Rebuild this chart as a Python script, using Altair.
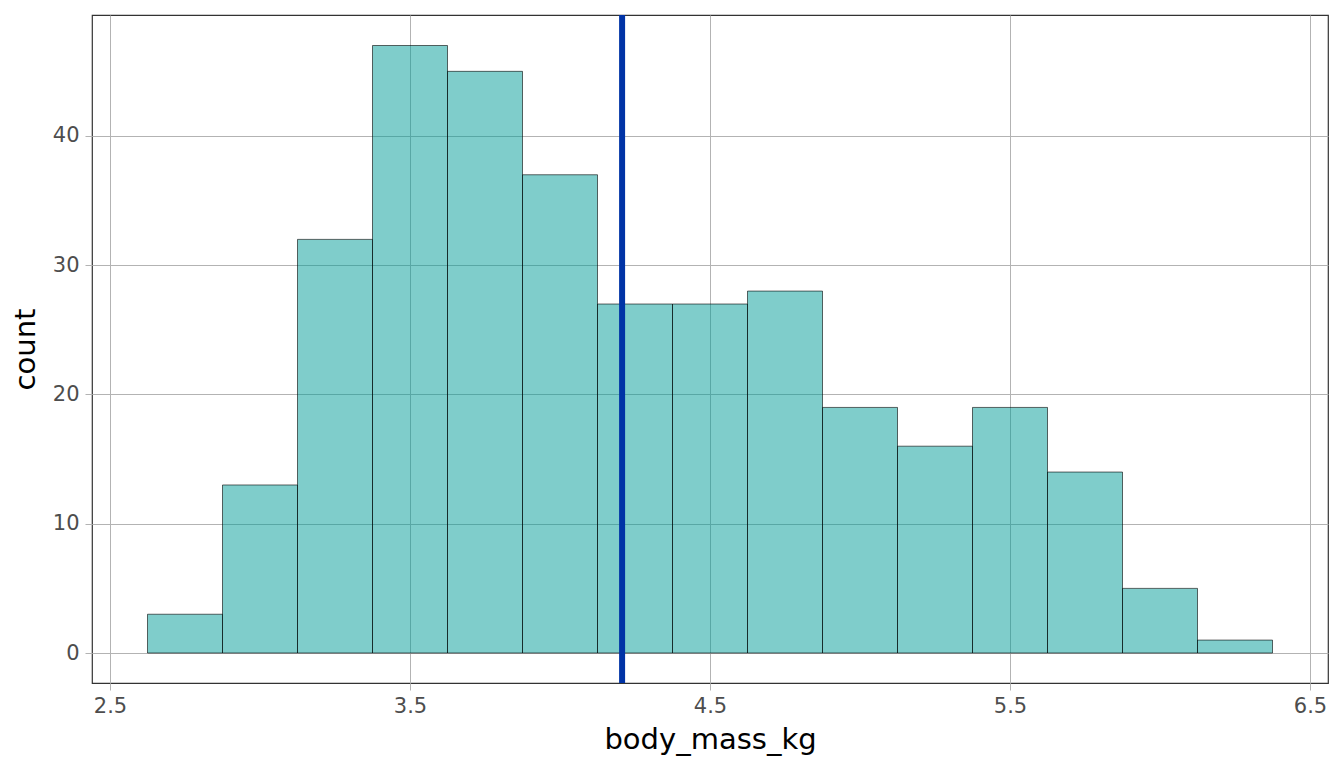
import altair as alt
import pandas as pd

bin_starts = [2.625, 2.875, 3.125, 3.375, 3.625, 3.875, 4.125, 4.375, 4.625,
              4.875, 5.125, 5.375, 5.625, 5.875, 6.125]
bin_width = 0.25
counts = [3, 13, 32, 47, 45, 37, 27, 27, 28, 19, 16, 19, 14, 5, 1]
mean_value = [4.207]
x_ticks = [2.5, 3.5, 4.5, 5.5, 6.5]
y_ticks = [0, 10, 20, 30, 40]

df = pd.DataFrame({
    "start": bin_starts,
    "end": [s + bin_width for s in bin_starts],
    "count": counts,
})
mean_df = pd.DataFrame({"mean": mean_value})

xscale = alt.Scale(domain=[2.44, 6.56], nice=False, zero=False)
yscale = alt.Scale(domain=[-2.32, 49.36], nice=False, zero=False)

FONT = "DejaVu Sans"

bars = alt.Chart(df).mark_bar(
    fill="#009B97", fillOpacity=0.5, stroke="#000000", strokeWidth=0.7,
    strokeOpacity=0.85,
).encode(
    x=alt.X("start:Q", scale=xscale, axis=alt.Axis(
        values=x_ticks, title="body_mass_kg", format=".1f",
        titleY=65, titleBaseline="alphabetic",
    )),
    x2="end:Q",
    y=alt.Y("count:Q", scale=yscale, axis=alt.Axis(
        values=y_ticks, title="count", titleX=-58, titleBaseline="alphabetic",
    )),
    y2=alt.datum(0),
)

vline = alt.Chart(mean_df).mark_rule(color="#0033A6", strokeWidth=6).encode(
    x=alt.X("mean:Q", scale=xscale),
)

chart = alt.layer(bars, vline).properties(
    width=1236, height=668,
    autosize=alt.AutoSizeParams(type="none"),
    padding={"left": 84, "top": 7, "right": 8, "bottom": 77},
).configure_view(
    stroke="#333333", strokeWidth=1.2,
).configure_axis(
    domain=False,
    grid=True, gridColor="#b3b3b3", gridWidth=1,
    tickColor="#b3b3b3", tickSize=7, tickWidth=1,
    labelFont=FONT, labelFontSize=21, labelColor="#4d4d4d", labelPadding=5,
    titleFont=FONT, titleFontSize=29, titleColor="#000000", titleFontWeight="normal",
).configure_axisY(labelPadding=6)

chart.save("out.html", embed_options={"renderer": "svg", "actions": False})
